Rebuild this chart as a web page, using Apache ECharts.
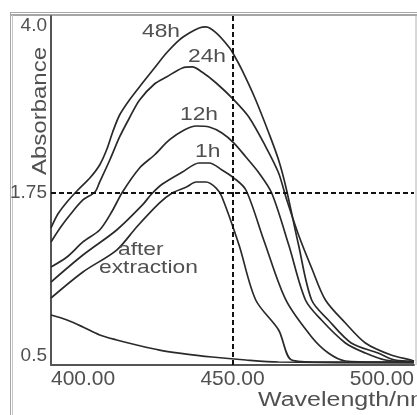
<!DOCTYPE html>
<html>
<head>
<meta charset="utf-8">
<script src="https://cdn.jsdelivr.net/npm/echarts@6/dist/echarts.min.js"></script>
<style>
  html, body { margin: 0; padding: 0; background: #fff; }
  #chart { width: 417px; height: 415px; }
</style>
</head>
<body>
<div id="chart"></div>
<script>
// absorbance spectra, [wavelength nm, absorbance]
const h48 = [[400, 1.874], [401.9, 2.014], [404.4, 2.135], [407.4, 2.255], [410.7, 2.375], [413.4, 2.506],
  [415.3, 2.656], [417.0, 2.837], [418.9, 3.007], [421.6, 3.158], [425.2, 3.328], [428.5, 3.479],
  [431.8, 3.629], [435.3, 3.759], [438.1, 3.830], [440.8, 3.880], [442.7, 3.890], [445.5, 3.830],
  [449.0, 3.689], [450.4, 3.609], [452.6, 3.459], [456.4, 3.158], [460.0, 2.827], [462.7, 2.556],
  [464.7, 2.285], [468.2, 1.703], [471.8, 1.152], [476.4, 0.951], [482.7, 0.721], [490.1, 0.620],
  [494.8, 0.550], [500, 0.540]]
const h24 = [[400, 1.734], [402.5, 1.874], [405.2, 2.004], [408.8, 2.155], [412.1, 2.235], [413.4, 2.335],
  [416.2, 2.556], [418.9, 2.787], [421.6, 2.977], [424.4, 3.158], [428.5, 3.318], [431.8, 3.388],
  [436.2, 3.479], [438.9, 3.489], [441.6, 3.438], [445.5, 3.328], [450.4, 3.158], [454.5, 2.987],
  [459.2, 2.686], [462.7, 2.426], [464.7, 2.185], [468.2, 1.804], [471.8, 1.473], [475.6, 1.152],
  [481.1, 0.921], [486.6, 0.721], [493.7, 0.600], [499.2, 0.550], [500, 0.540]]
const h12 = [[400, 1.483], [404.4, 1.583], [408.8, 1.734], [413.4, 1.854], [416.7, 2.034], [419.7, 2.235],
  [424.4, 2.476], [428.5, 2.606], [432.6, 2.757], [436.7, 2.857], [440.0, 2.897], [443.6, 2.887],
  [447.1, 2.827], [450.4, 2.726], [453.7, 2.586], [457.3, 2.426], [460.8, 2.225], [465.5, 1.703],
  [470.1, 1.152], [474.5, 0.951], [481.1, 0.721], [486.6, 0.620], [492.1, 0.550], [500, 0.530]]
const h1 = [[400, 1.332], [408.8, 1.603], [418.1, 1.854], [425.2, 2.105], [427.7, 2.215], [430.7, 2.315],
  [436.2, 2.436], [440.8, 2.526], [443.6, 2.526], [447.1, 2.456], [450.4, 2.375], [453.7, 2.255],
  [458.6, 1.754], [464.7, 1.152], [471.8, 0.781], [476.4, 0.620], [481.1, 0.540], [490.1, 0.530],
  [500, 0.530]]
const afterExtraction = [[400, 1.172], [408.8, 1.433], [418.1, 1.653], [423.6, 1.884], [429.9, 2.125],
  [433.4, 2.225], [437.3, 2.285], [440.0, 2.335], [442.7, 2.335], [445.5, 2.275], [447.1, 2.185],
  [451.8, 1.703], [456.4, 1.152], [462.7, 0.851], [466.3, 0.550], [473.7, 0.530], [500, 0.530]]
const blank = [[400, 1.001], [404.4, 0.951], [408.8, 0.881], [413.4, 0.801], [418.1, 0.751], [423.6, 0.701],
  [429.9, 0.650], [435.3, 0.620], [444.4, 0.580], [453.7, 0.550], [462.7, 0.530], [500, 0.520]]

const seriesNames = ['48h', '24h', '12h', '1h', 'after extraction', 'blank']
const seriesData = [h48, h24, h12, h1, afterExtraction, blank]

const xTicks = [400, 450, 500]
const yMin = 0.5
const yMax = 4.0
const cursorX = 450
const cursorY = 2.235
const cursorLabel = '1.75'

const chart = echarts.init(document.getElementById('chart'))

const textColor = '#505050'
const font = 'Liberation Sans, Arial, sans-serif'

// labels written on the plot
const notes = [
  { text: '48h', x: 142, y: 22 },
  { text: '24h', x: 188, y: 47 },
  { text: '12h', x: 180, y: 105 },
  { text: '1h', x: 195, y: 142 },
  { text: 'after', x: 118, y: 240 },
  { text: 'extraction', x: 99, y: 258 },
]

const series = seriesData.map((d, i) => ({
  name: seriesNames[i],
  type: 'line',
  data: d,
  symbol: 'none',
  smooth: 0.3,
  lineStyle: { color: '#2a2a2a', width: 1.7 },
}))

series[0].markLine = {
  silent: true,
  symbol: 'none',
  lineStyle: { color: '#111', width: 2, type: [5, 3] },
  data: [
    { xAxis: cursorX, label: { show: false } },
    {
      yAxis: cursorY,
      label: {
        show: true, position: 'start', formatter: cursorLabel,
        color: textColor, fontSize: 19, fontFamily: font, distance: 4,
      },
    },
  ],
}

const graphics = notes.map(n => ({
  type: 'text',
  x: n.x, y: n.y,
  scaleX: 1.2,
  style: { text: n.text, fill: textColor, fontSize: 19, fontFamily: font },
  z: 10,
}))

// outer frame and right edge of the plot
graphics.push(
  { type: 'line', shape: { x1: 10, y1: 12.5, x2: 417, y2: 12.5 }, style: { stroke: '#a8a8a8', lineWidth: 1 } },
  { type: 'line', shape: { x1: 10, y1: 15, x2: 417, y2: 15 }, style: { stroke: '#888', lineWidth: 1.5 } },
  { type: 'line', shape: { x1: 10.5, y1: 12, x2: 10.5, y2: 415 }, style: { stroke: '#a8a8a8', lineWidth: 1 } },
  { type: 'line', shape: { x1: 12.5, y1: 15, x2: 12.5, y2: 415 }, style: { stroke: '#c8c8c8', lineWidth: 1 } },
  { type: 'line', shape: { x1: 416, y1: 15, x2: 416, y2: 365 }, style: { stroke: '#b0b0b0', lineWidth: 1 } },
  {
    type: 'text', x: 40, y: 111, rotation: Math.PI / 2, scaleX: 1.2,
    style: { text: 'Absorbance', fill: textColor, fontSize: 20, fontFamily: font, align: 'center', verticalAlign: 'middle' },
  },
  {
    type: 'text', x: 258, y: 390, scaleX: 1.25,
    style: { text: 'Wavelength/nm', fill: textColor, fontSize: 20, fontFamily: font },
  }
)

const option = {
  animation: false,
  backgroundColor: '#fff',
  grid: { left: 51, top: 16, right: 1, bottom: 50 },
  xAxis: {
    type: 'value',
    min: xTicks[0],
    max: xTicks[xTicks.length - 1],
    interval: xTicks[1] - xTicks[0],
    splitLine: { show: false },
    axisTick: { show: false },
    axisLine: { lineStyle: { color: '#555', width: 2 } },
    axisLabel: {
      color: textColor, fontSize: 21, fontFamily: font, margin: 4,
      formatter: v => v.toFixed(2),
      alignMinLabel: 'left', alignMaxLabel: 'right',
    },
  },
  yAxis: {
    type: 'value',
    min: yMin,
    max: yMax,
    interval: yMax - yMin,
    splitLine: { show: false },
    axisTick: { show: false },
    axisLine: { show: true, lineStyle: { color: '#555', width: 2 } },
    axisLabel: {
      color: textColor, fontSize: 19, fontFamily: font, margin: 4,
      formatter: v => v.toFixed(1),
      verticalAlignMinLabel: 'bottom', verticalAlignMaxLabel: 'top',
    },
  },
  graphic: graphics,
  series: series,
}

chart.setOption(option)
</script>
</body>
</html>
